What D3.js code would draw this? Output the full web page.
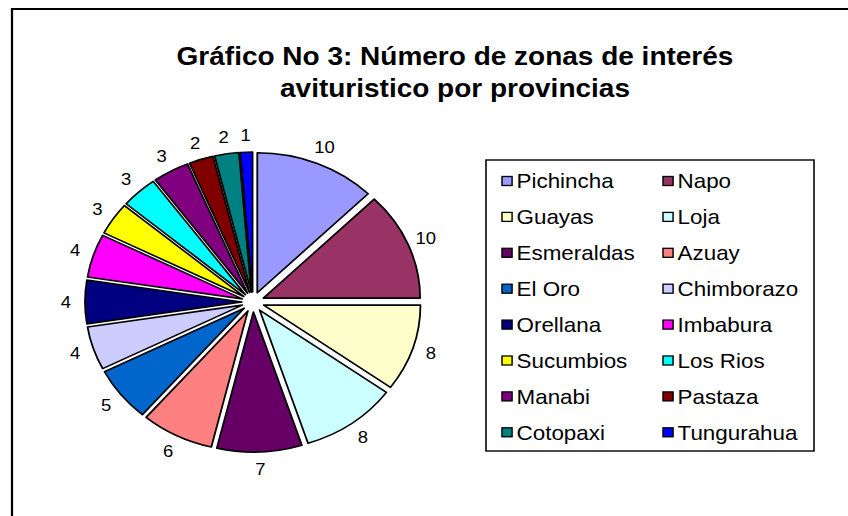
<!DOCTYPE html>
<html>
<head>
<meta charset="utf-8">
<script src="https://cdn.jsdelivr.net/npm/d3@7"></script>
<style>
  body { margin:0; background:#fff; }
</style>
</head>
<body>
<div id="chart"></div>
<script>
var provincias = ["Pichincha","Napo","Guayas","Loja","Esmeraldas","Azuay","El Oro","Chimborazo",
                  "Orellana","Imbabura","Sucumbios","Los Rios","Manabi","Pastaza","Cotopaxi","Tungurahua"]
var valores = [10,10,8,8,7,6,5,4,4,4,3,3,3,2,2,1]
var colores = ["#9999ff","#993366","#ffffcc","#ccffff","#660066","#ff8080","#0066cc","#ccccff",
               "#000080","#ff00ff","#ffff00","#00ffff","#800080","#800000","#008080","#0000ff"]
var titulo = ["Gráfico No 3: Número de zonas de interés", "avituristico por provincias"]

initChart()
function initChart(){
  var width = 848
  var height = 516
  // the original picture is stretched sideways, so draw in a narrower box
  var stretch = 1.12
  var vw = width/stretch

  var svg = d3.select("#chart").append("svg")
      .attr("width", width)
      .attr("height", height)
      .attr("viewBox", "0 0 "+vw+" "+height)
      .attr("preserveAspectRatio","none")
      .style("font-family","'Liberation Sans', Arial, sans-serif")

  // frame (only left and top edges visible)
  svg.append("path")
    .attr("d","M"+(12/stretch)+","+height+" V9 H"+vw)
    .attr("fill","none")
    .attr("stroke","#000")
    .attr("stroke-width",2)

  svg.append("g").selectAll("text")
    .data(titulo)
    .enter()
    .append("text")
    .attr("x",455/stretch)
    .attr("y",function(d,i){ return 65 + i*32 })
    .attr("text-anchor","middle")
    .attr("font-size",25)
    .attr("font-weight",700)
    .attr("fill","#000")
    .text(function(d){ return d })

  // pie
  var cx = 253/stretch, cy = 302
  var r = 140, explode = 10, labelR = 167

  var pie = d3.pie().sort(null).value(function(d){ return d })
  var arcs = pie(valores)
  var arc = d3.arc().innerRadius(0).outerRadius(r)

  var g = svg.append("g").attr("transform","translate("+cx+","+cy+")")

  g.selectAll("path")
    .data(arcs)
    .enter()
    .append("path")
    .attr("d",arc)
    .attr("transform",function(d){
      var a = (d.startAngle+d.endAngle)/2
      return "translate("+(Math.sin(a)*explode)+","+(-Math.cos(a)*explode)+")"
    })
    .attr("fill",function(d,i){ return colores[i] })
    .attr("stroke","#000")
    .attr("stroke-width",1.6)
    .attr("stroke-linejoin","round")

  g.selectAll("text")
    .data(arcs)
    .enter()
    .append("text")
    .attr("x",function(d){ return Math.sin((d.startAngle+d.endAngle)/2)*labelR })
    .attr("y",function(d){ return -Math.cos((d.startAngle+d.endAngle)/2)*labelR })
    .attr("text-anchor","middle")
    .attr("dy","0.35em")
    .attr("font-size",16.5)
    .attr("fill","#000")
    .text(function(d){ return d.data })

  // legend
  var lx = 486/stretch, ly = 160
  var lw = (814-486)/stretch, lh = 291
  var rowH = 35.9
  var legend = svg.append("g")

  legend.append("rect")
    .attr("x",lx)
    .attr("y",ly)
    .attr("width",lw)
    .attr("height",lh)
    .attr("fill","#fff")
    .attr("stroke","#000")
    .attr("stroke-width",1.4)

  var items = legend.selectAll(".item")
    .data(provincias)
    .enter()
    .append("g")
    .attr("class","item")
    .attr("transform",function(d,i){
      var col = i%2, row = Math.floor(i/2)
      var x = col==0 ? 502/stretch : 663/stretch
      return "translate("+x+","+(181+row*rowH)+")"
    })

  items.append("rect")
    .attr("x",0)
    .attr("y",-4.5)
    .attr("width",9)
    .attr("height",9)
    .attr("fill",function(d,i){ return colores[i] })
    .attr("stroke","#000")
    .attr("stroke-width",1.3)

  items.append("text")
    .attr("x",13)
    .attr("dy","0.36em")
    .attr("font-size",20)
    .attr("fill","#000")
    .text(function(d){ return d })
}
</script>
</body>
</html>
